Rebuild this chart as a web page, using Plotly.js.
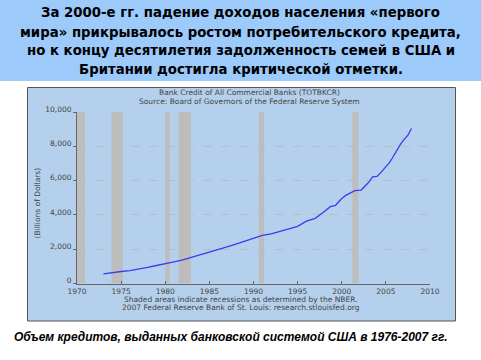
<!DOCTYPE html>
<html>
<head>
<meta charset="utf-8">
<script src="https://cdn.plot.ly/plotly-3.0.1.min.js"></script>
<style>html,body{margin:0;padding:0;background:#fff;}#chart{width:481px;height:360px;}</style>
</head>
<body>
<div id="chart"></div>
<script>
// Data (billions of dollars)
const years = [1973.0, 1974.0, 1975.0, 1976.0, 1977.0, 1978.0, 1979.0, 1980.0, 1981.0, 1982.0, 1983.0, 1984.0, 1985.0, 1986.0, 1987.0, 1988.0, 1989.0, 1990.0, 1991.0, 1992.0, 1993.0, 1994.0, 1995.0, 1996.0, 1997.0, 1998.0, 1998.7, 1999.3, 2000.0, 2000.5, 2001.0, 2001.5, 2002.2, 2002.6, 2003.0, 2003.5, 2004.0, 2004.5, 2005.0, 2005.4, 2005.7, 2006.0, 2006.3, 2006.7, 2007.0, 2007.5, 2007.9];
const credit = [560, 640, 700, 750, 830, 940, 1050, 1145, 1260, 1380, 1530, 1680, 1800, 1980, 2140, 2300, 2470, 2640, 2800, 2900, 3030, 3200, 3330, 3640, 3800, 4180, 4480, 4560, 4960, 5150, 5300, 5410, 5450, 5640, 5870, 6220, 6240, 6510, 6800, 7050, 7290, 7550, 7870, 8150, 8360, 8650, 9040];
const recessionStart = [1970.0, 1973.9, 1980.0, 1981.5, 1990.6, 2001.2];
const recessionEnd   = [1970.9, 1975.2, 1980.5, 1982.9, 1991.2, 2001.9];
const headlineLines = [
  "За 2000-е гг. падение доходов населения «первого",
  "мира» прикрывалось ростом потребительского кредита,",
  "но к концу десятилетия задолженность семей в США и",
  "Британии достигла критической отметки."
];
const chartTitle = ["Bank Credit of All Commercial Banks (TOTBKCR)", "Source: Board of Governors of the Federal Reserve System"];
const noteLines = ["Shaded areas indicate recessions as determined by the NBER.", "2007 Federal Reserve Bank of St. Louis: research.stlouisfed.org"];
const caption = "Объем кредитов, выданных банковской системой США в 1976-2007 гг.";
const yTitle = "(Billions of Dollars)";

const W = 481, H = 360;
const px = x => x / W;
const py = y => 1 - y / H;

const shapes = [
  {type:'rect', xref:'paper', yref:'paper', x0:0, x1:1, y0:py(81), y1:1, fillcolor:'#9ccafa', line:{width:0}, layer:'below'},
  {type:'rect', xref:'paper', yref:'paper', x0:px(27.5), x1:px(455.5), y0:py(321), y1:py(87.5), fillcolor:'#b5d0ec', line:{color:'#555', width:1}, layer:'below'}
];
for (let i = 0; i < recessionStart.length; i++) {
  shapes.push({type:'rect', xref:'x', yref:'y', x0:recessionStart[i], x1:recessionEnd[i], y0:0, y1:10000, fillcolor:'#bdbdbd', line:{width:0}, layer:'below'});
}

const annotations = [];
const headY = [13, 32, 50.5, 69];
headlineLines.forEach((t, i) => annotations.push({xref:'paper', yref:'paper', x:0.5, y:py(headY[i]), text:'<b>'+t+'</b>', showarrow:false, xanchor:'center', yanchor:'middle', font:{family:'DejaVu Sans', size:13.3, color:'#000'}}));
const ctY = [93, 101.5];
chartTitle.forEach((t, i) => annotations.push({xref:'paper', yref:'paper', x:px(249), y:py(ctY[i]), text:t, showarrow:false, xanchor:'center', yanchor:'middle', font:{family:'DejaVu Sans', size:7.5, color:'#444'}}));
const nY = [299.5, 307.5];
noteLines.forEach((t, i) => annotations.push({xref:'paper', yref:'paper', x:px(241), y:py(nY[i]), text:t, showarrow:false, xanchor:'center', yanchor:'middle', font:{family:'DejaVu Sans', size:7.5, color:'#444'}}));
annotations.push({xref:'paper', yref:'paper', x:px(36.5), y:py(203), text:yTitle, textangle:-90, showarrow:false, xanchor:'center', yanchor:'middle', font:{family:'DejaVu Sans', size:7.5, color:'#444'}});
annotations.push({xref:'paper', yref:'paper', x:px(231), y:py(337), text:'<b><i>'+caption+'</i></b>', showarrow:false, xanchor:'center', yanchor:'middle', font:{family:'Liberation Sans', size:12, color:'#000'}});

const trace = {x: years, y: credit, type:'scatter', mode:'lines', line:{color:'#3b3bf2', width:1.3}, hoverinfo:'skip'};

const layout = {
  width: W, height: H,
  margin: {l:0, r:0, t:0, b:0},
  paper_bgcolor: '#ffffff',
  plot_bgcolor: '#ffffff',
  showlegend: false,
  xaxis: {domain:[px(77), px(430)], range:[1970, 2010], dtick:5, tick0:1970, showgrid:false, zeroline:false,
          showline:true, linecolor:'#666', linewidth:1, ticks:'inside', ticklen:3, tickcolor:'#666',
          tickfont:{family:'DejaVu Sans', size:7.5, color:'#444'}, fixedrange:true},
  yaxis: {domain:[py(283.5), py(112)], range:[0, 10000], dtick:2000, tickformat:',', showgrid:true, gridcolor:'#bdbdbd', griddash:'dash', gridwidth:1,
          zeroline:false, showline:true, linecolor:'#666', linewidth:1, ticks:'outside', ticklen:3, tickcolor:'#666', ticklabelshift:-3,
          tickfont:{family:'DejaVu Sans', size:7.5, color:'#444'}, fixedrange:true},
  shapes: shapes,
  annotations: annotations
};

Plotly.newPlot('chart', [trace], layout, {staticPlot:true, displayModeBar:false});
</script>
</body>
</html>
